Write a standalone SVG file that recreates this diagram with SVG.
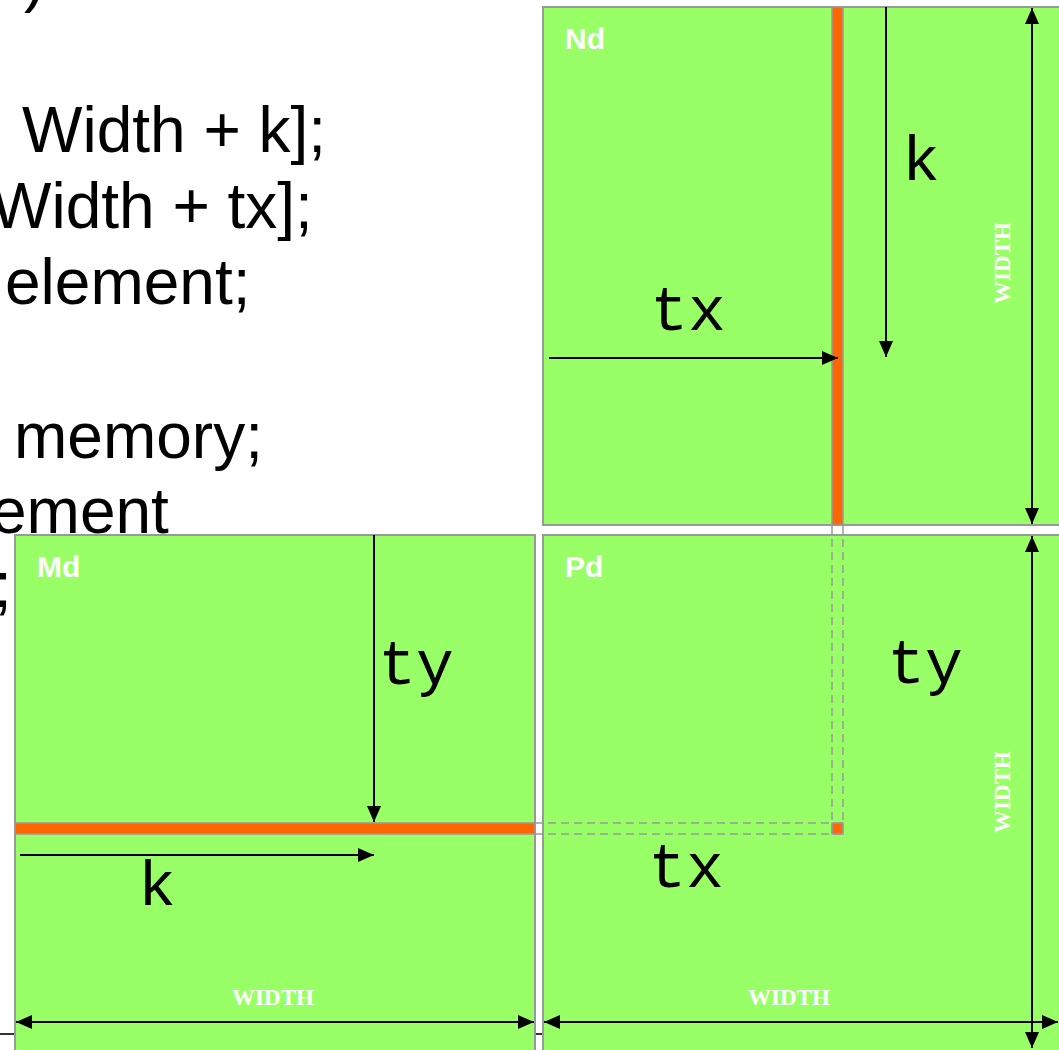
<svg xmlns="http://www.w3.org/2000/svg" width="1059" height="1050" viewBox="0 0 1059 1050">
<style>
.code{font-family:"Liberation Sans",Arial,sans-serif;font-size:64px;fill:#000}
.mat{fill:#99FF66;stroke:#999;stroke-width:2}
.stripe{fill:#FF6600;stroke:#999;stroke-width:1.5}
.name{font-family:"Liberation Sans",Arial,sans-serif;font-weight:bold;font-size:30px;fill:#fff}
.var{font-family:"Liberation Mono","Courier New",monospace;font-size:63px;fill:#000}
.wid{font-family:"Liberation Serif","Times New Roman",serif;font-weight:bold;font-size:23px;fill:#fff;text-anchor:middle}
.arr{fill:none;stroke:#000;stroke-width:2}
.dash{fill:none;stroke:#999;stroke-width:1.5;stroke-dasharray:8 5}
</style>
<defs>
<marker id="ah" viewBox="0 0 16 14" refX="16" refY="7" markerWidth="16" markerHeight="14" markerUnits="userSpaceOnUse" orient="auto-start-reverse">
<path d="M0,0 L16,7 L0,14 z" fill="#000"/>
</marker>
</defs>
<rect width="1059" height="1050" fill="#fff"/>
<g id="code">
<text class="code" x="24" y="0">)</text>
<text class="code" x="22" y="152">Width + k];</text>
<text class="code" x="-9" y="228">Width + tx];</text>
<text class="code" x="5" y="304">element;</text>
<text class="code" x="14" y="458">memory;</text>
<text class="code" x="-9" y="533">ement</text>
<text class="code" x="-6" y="607">;</text>
<line x1="0" y1="1034" x2="545" y2="1034" stroke="#333" stroke-width="2"/>
</g>
<g id="Nd">
<rect class="mat" x="543" y="7" width="530" height="518"/>
<rect class="stripe" x="832" y="7" width="11" height="518"/>
<text class="name" x="565" y="49">Nd</text>
<text class="var" x="688" y="330" text-anchor="middle">tx</text>
<text class="var" x="921" y="180" text-anchor="middle">k</text>
<text class="wid" transform="translate(1010,263) rotate(-90)">WIDTH</text>
</g>
<g id="Md">
<rect class="mat" x="15" y="535" width="520" height="530"/>
<rect class="stripe" x="15" y="823" width="520" height="11"/>
<text class="name" x="37" y="577">Md</text>
<text class="var" x="416" y="684" text-anchor="middle">ty</text>
<text class="var" x="157" y="905" text-anchor="middle">k</text>
<text class="wid" x="273" y="1005">WIDTH</text>
</g>
<g id="Pd">
<rect class="mat" x="543" y="535" width="530" height="530"/>
<rect class="stripe" x="832" y="823" width="11" height="11"/>
<text class="name" x="565" y="577">Pd</text>
<text class="var" x="925" y="683" text-anchor="middle">ty</text>
<text class="var" x="686" y="887" text-anchor="middle">tx</text>
<text class="wid" x="789" y="1005">WIDTH</text>
<text class="wid" transform="translate(1010,792) rotate(-90)">WIDTH</text>
</g>
<g id="connectors">
<path class="dash" d="M832,526 V834 M843,526 V834 M535,823 H843 M535,834 H843"/>
<path class="arr" d="M886,7 V357" marker-end="url(#ah)"/>
<path class="arr" d="M549,358 H838" marker-end="url(#ah)"/>
<path class="arr" d="M1032,8 V524" marker-start="url(#ah)" marker-end="url(#ah)"/>
<path class="arr" d="M374,535 V822" marker-end="url(#ah)"/>
<path class="arr" d="M20,855 H374" marker-end="url(#ah)"/>
<path class="arr" d="M16,1022 H534" marker-start="url(#ah)" marker-end="url(#ah)"/>
<path class="arr" d="M1032,536 V1048" marker-start="url(#ah)" marker-end="url(#ah)"/>
<path class="arr" d="M544,1022 H1058" marker-start="url(#ah)" marker-end="url(#ah)"/>
</g>
</svg>
